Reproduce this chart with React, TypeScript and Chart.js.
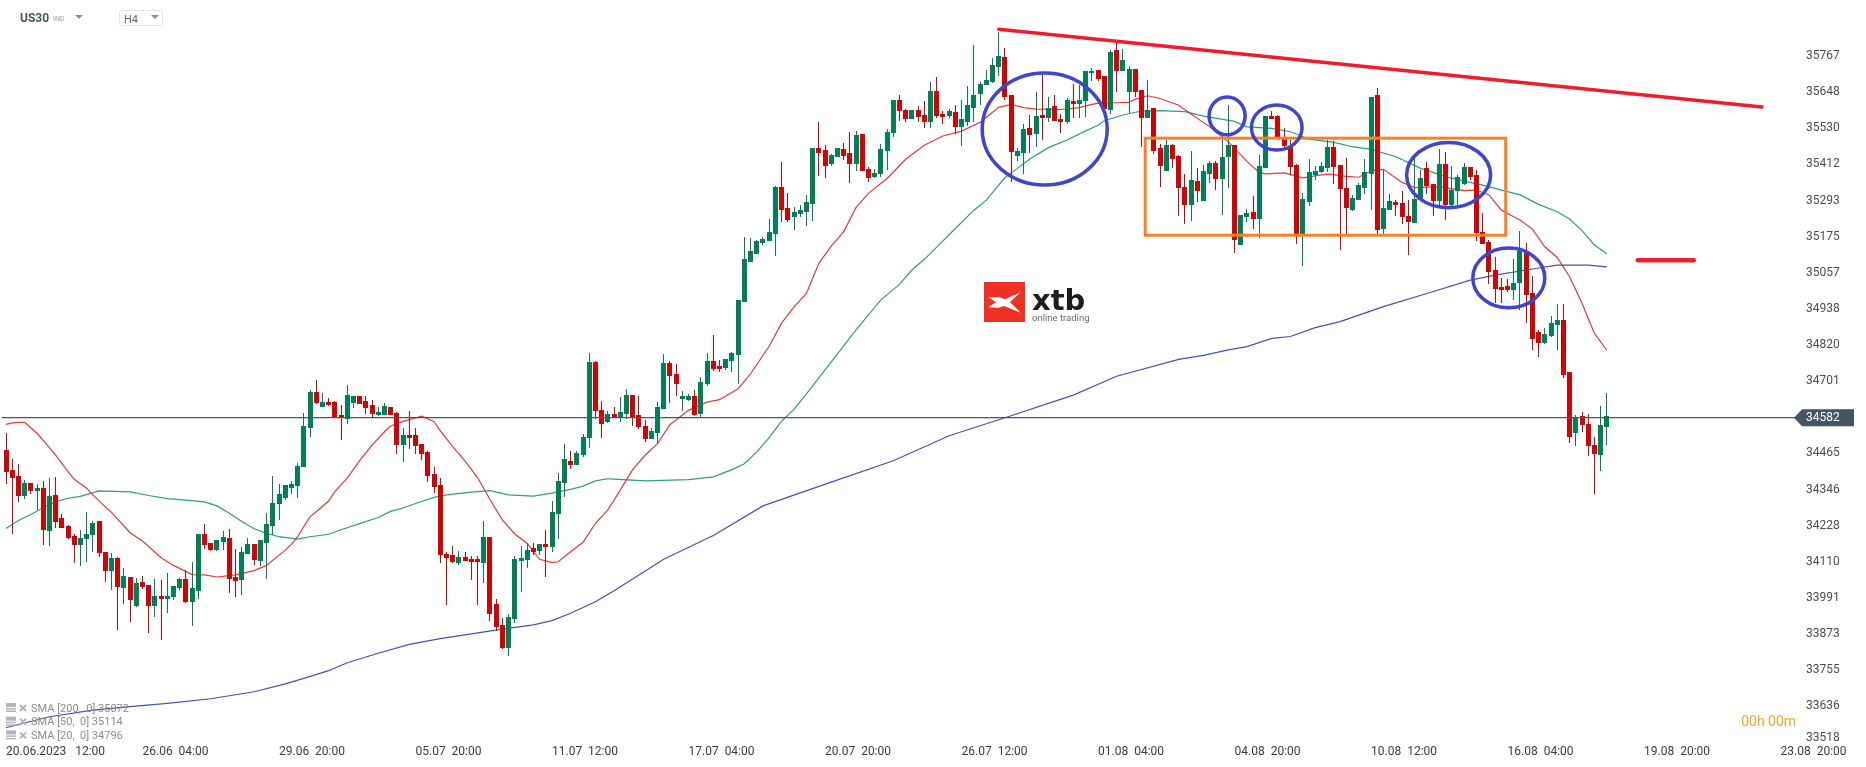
// US30 H4 candles with three SMAs and hand drawn analysis marks
import React, { useEffect, useRef } from 'react';
import Chart from 'chart.js/auto';

const opens = [
  34476,34411,34391,34327,34368,34343,34352,34212,34329,34253,
  34227,34194,34166,34186,34199,34244,34142,34081,34122,34025,
  34060,33965,34044,34034,33966,33998,33989,33996,34025,34053,
  33979,34015,34201,34171,34149,34176,34188,34060,34051,34137,
  34168,34114,34172,34228,34300,34318,34353,34359,34422,34549,
  34666,34618,34633,34633,34591,34579,34631,34653,34637,34624,
  34591,34592,34617,34597,34494,34525,34525,34496,34470,34397,
  34361,34135,34132,34107,34126,34119,34119,34107,34191,33971,
  33903,33828,33923,34114,34117,34155,34146,34168,34159,34268,
  34369,34439,34427,34460,34515,34763,34606,34568,34593,34581,
  34594,34655,34590,34554,34512,34532,34610,34760,34724,34643,
  34640,34652,34594,34691,34767,34750,34745,34768,34787,34961,
  35092,35118,35154,35161,35184,35337,35268,35240,35251,35257,
  35283,35466,35459,35414,35437,35462,35449,35414,35511,35397,
  35372,35381,35457,35515,35623,35590,35562,35590,35574,35552,
  35652,35577,35572,35584,35535,35552,35598,35643,35673,35683,
  35732,35764,35639,35440,35450,35531,35513,35574,35565,35603,
  35561,35552,35620,35611,35621,35710,35721,35702,35590,35787,
  35719,35650,35724,35656,35564,35597,35466,35390,35475,35439,
  35338,35280,35357,35292,35382,35416,35364,35436,35475,35149,
  35240,35256,35233,35400,35570,35570,35502,35472,35410,35184,
  35289,35376,35387,35400,35469,35410,35335,35262,35295,35335,
  35380,35639,35200,35262,35289,35285,35243,35220,35295,35400,
  35348,35292,35413,35279,35325,35348,35403,35377,35190,35158,
  35066,35010,35013,35000,35023,35128,34990,34863,34827,34849,
  34886,34902,34732,34532,34588,34561,34492,34460,34551,
];
const closes = [
  34405,34385,34327,34368,34343,34352,34215,34325,34241,34222,
  34189,34166,34188,34201,34237,34140,34081,34122,34028,34063,
  33983,34040,34028,33966,33998,33989,33998,34031,34053,33979,
  34024,34201,34166,34149,34181,34191,34055,34048,34142,34168,
  34117,34181,34234,34302,34332,34361,34365,34424,34555,34666,
  34631,34633,34625,34584,34584,34656,34653,34628,34615,34595,
  34601,34620,34592,34494,34525,34515,34490,34464,34392,34356,
  34133,34123,34110,34126,34114,34110,34110,34191,33940,33897,
  33828,33929,34119,34122,34148,34142,34168,34159,34273,34375,
  34447,34427,34465,34518,34763,34604,34561,34593,34583,34600,
  34655,34584,34551,34512,34537,34616,34760,34719,34692,34652,
  34652,34590,34698,34767,34742,34742,34773,34793,34967,35101,
  35127,35160,35166,35189,35337,35262,35230,35255,35262,35289,
  35466,35449,35408,35443,35466,35440,35414,35508,35391,35368,
  35384,35462,35518,35623,35588,35562,35590,35568,35552,35652,
  35572,35568,35587,35535,35561,35606,35639,35675,35688,35738,
  35767,35634,35454,35456,35528,35509,35570,35565,35597,35555,
  35552,35623,35611,35623,35718,35718,35693,35594,35780,35719,
  35754,35724,35650,35564,35590,35457,35407,35475,35430,35336,
  35280,35361,35325,35390,35416,35364,35436,35475,35164,35246,
  35253,35233,35407,35570,35561,35498,35472,35403,35184,35299,
  35387,35390,35407,35469,35403,35331,35269,35302,35344,35387,
  35633,35197,35269,35292,35279,35240,35223,35299,35367,35341,
  35292,35413,35279,35328,35371,35403,35371,35187,35151,35059,
  35004,35000,35000,35023,35128,34984,34840,34827,34856,34892,
  34902,34722,34519,34584,34558,34489,34463,34558,34588,
];
const highs = [
  34531,34447,34430,34378,34368,34365,34375,34384,34388,34266,
  34230,34201,34214,34273,34244,34244,34142,34139,34126,34090,
  34060,34057,34063,34034,34053,34050,34073,34031,34057,34083,
  34109,34201,34234,34171,34181,34211,34217,34152,34158,34188,
  34168,34181,34270,34391,34365,34361,34375,34434,34597,34673,
  34705,34663,34646,34637,34624,34689,34653,34653,34653,34640,
  34617,34630,34617,34601,34548,34604,34548,34496,34473,34420,
  34384,34142,34162,34145,34142,34129,34129,34243,34191,33989,
  33926,33939,34129,34162,34168,34171,34168,34215,34309,34401,
  34496,34472,34472,34527,34793,34767,34636,34603,34616,34649,
  34675,34655,34652,34573,34547,34632,34790,34767,34757,34668,
  34659,34672,34714,34793,34852,34770,34776,34796,34967,35173,
  35170,35163,35173,35232,35340,35419,35317,35271,35279,35312,
  35466,35551,35475,35446,35466,35482,35518,35521,35511,35403,
  35397,35479,35528,35623,35639,35593,35590,35603,35620,35682,
  35698,35587,35593,35606,35623,35669,35803,35682,35721,35760,
  35846,35793,35639,35466,35544,35574,35649,35705,35633,35639,
  35577,35629,35675,35672,35718,35728,35721,35702,35787,35816,
  35790,35734,35724,35656,35688,35597,35479,35492,35479,35443,
  35380,35456,35400,35410,35424,35424,35508,35606,35475,35246,
  35266,35308,35443,35570,35587,35574,35531,35492,35413,35317,
  35430,35407,35420,35492,35489,35410,35433,35312,35351,35430,
  35633,35662,35394,35315,35295,35325,35295,35432,35394,35420,
  35348,35462,35452,35407,35377,35416,35403,35394,35253,35164,
  35108,35040,35036,35102,35194,35154,35046,34869,34876,34915,
  34954,34954,34732,34591,34601,34594,34519,34620,34663,
];
const lows = [
  34365,34201,34307,34317,34333,34280,34166,34163,34222,34222,
  34186,34107,34097,34110,34143,34127,34045,34019,33887,33973,
  33914,33963,34022,33878,33930,33855,33943,33986,34019,33976,
  33901,33989,34153,34146,34146,34150,34009,33996,34002,34137,
  34100,34097,34055,34199,34248,34313,34333,34320,34422,34520,
  34628,34618,34621,34584,34510,34563,34615,34628,34595,34585,
  34589,34592,34592,34464,34438,34480,34464,34444,34372,34336,
  34107,33969,34107,34100,34111,34051,33969,34041,33917,33884,
  33825,33802,33910,34012,34091,34133,34132,34061,34142,34186,
  34323,34414,34427,34453,34483,34578,34515,34565,34583,34568,
  34578,34555,34545,34502,34512,34496,34610,34630,34653,34604,
  34637,34588,34584,34686,34735,34732,34738,34732,34692,34961,
  35092,35118,35148,35161,35112,35223,35223,35197,35241,35211,
  35227,35375,35368,35408,35437,35427,35352,35390,35391,35355,
  35368,35372,35395,35503,35555,35552,35562,35552,35532,35532,
  35565,35545,35565,35513,35473,35539,35552,35608,35673,35680,
  35703,35624,35355,35424,35381,35450,35470,35493,35552,35555,
  35516,35545,35565,35565,35568,35686,35686,35594,35577,35650,
  35719,35579,35634,35470,35564,35447,35339,35390,35400,35243,
  35218,35228,35289,35292,35352,35328,35247,35336,35123,35149,
  35223,35200,35171,35400,35561,35498,35462,35377,35151,35080,
  35276,35361,35383,35387,35348,35131,35184,35259,35295,35315,
  35262,35184,35184,35262,35243,35217,35115,35220,35292,35315,
  35243,35272,35230,35276,35279,35344,35361,35161,35151,35020,
  34957,34958,34994,34968,34935,34892,34804,34781,34823,34846,
  34804,34712,34499,34489,34535,34456,34332,34407,34492,
];

// SMA lines at the bars where they bend
const sma20Bars = [0,1,2,3,5,7,8,10,11,13,14,16,17,20,22,25,27,30,32,34,37,40,42,45,46,47,49,50,52,53,55,57,59,61,62,64,67,69,70,72,74,76,78,80,82,84,86,88,89,91,93,95,97,98,101,103,105,107,110,113,115,118,120,123,125,127,129,131,133,135,137,139,142,145,148,151,154,157,160,162,164,166,170,173,175,176,177,179,181,182,184,186,189,191,194,197,200,202,203,206,209,213,216,218,220,222,225,227,231,235,237,239,241,244,246,248,250,252,254,256,258];
const sma20Values = [34560,34565,34567,34567,34531,34484,34459,34405,34380,34351,34329,34290,34272,34205,34178,34123,34098,34068,34067,34060,34067,34081,34098,34148,34167,34192,34258,34274,34309,34340,34384,34441,34492,34536,34555,34570,34587,34569,34539,34487,34440,34386,34314,34247,34201,34170,34118,34107,34110,34143,34174,34236,34280,34312,34412,34459,34497,34559,34606,34633,34641,34677,34726,34816,34892,34945,34989,35088,35144,35191,35271,35317,35366,35429,35475,35505,35521,35550,35599,35609,35598,35593,35592,35598,35609,35612,35613,35614,35615,35626,35637,35628,35606,35577,35535,35486,35422,35385,35381,35384,35368,35381,35373,35370,35391,35396,35353,35336,35339,35326,35328,35312,35262,35230,35200,35142,35107,35044,34957,34858,34803];
const sma50Bars = [0,2,4,6,8,10,12,15,20,23,26,29,32,34,36,38,40,42,44,47,49,52,54,57,60,62,64,66,69,71,75,78,81,85,88,91,93,95,97,98,103,110,114,117,119,121,123,125,127,129,133,137,141,144,146,148,150,153,156,158,161,163,165,168,171,174,176,177,180,183,186,190,193,198,200,204,207,210,214,217,220,224,228,232,235,238,241,244,247,250,252,254,256,258];
const sma50Values = [34219,34245,34265,34287,34306,34318,34324,34342,34339,34327,34317,34312,34306,34293,34269,34242,34218,34203,34192,34184,34192,34200,34215,34235,34255,34275,34286,34301,34321,34329,34338,34343,34329,34325,34335,34347,34358,34375,34382,34381,34375,34379,34388,34412,34431,34470,34517,34571,34609,34660,34765,34870,34968,35019,35066,35101,35141,35202,35262,35295,35369,35399,35430,35467,35492,35522,35540,35555,35574,35587,35588,35585,35570,35553,35535,35530,35519,35495,35484,35470,35461,35437,35399,35372,35357,35344,35328,35312,35281,35257,35233,35195,35148,35119];
const sma200Bars = [0,7,14,20,26,33,40,45,48,52,55,60,65,70,80,85,88,91,95,98,106,114,122,133,143,152,161,172,179,189,193,197,200,204,207,211,215,222,229,236,240,245,250,255,258];
const sma200Values = [33566,33602,33624,33635,33646,33661,33684,33710,33728,33753,33779,33810,33839,33858,33889,33903,33917,33941,33979,34015,34118,34196,34293,34371,34441,34523,34582,34656,34718,34773,34786,34804,34815,34842,34848,34877,34897,34946,34989,35033,35049,35066,35082,35082,35076];

const currentPrice = 34582;
const bottomPrice = 33518;
const yTicks = [33636,33755,33873,33991,34110,34228,34346,34465,34701,34820,34938,35057,35175,35293,35412,35530,35648,35767];
const xTickLabels = ['20.06.2023   12:00','26.06  04:00','29.06  20:00','05.07  20:00','11.07  12:00','17.07  04:00','20.07  20:00','26.07  12:00','01.08  04:00','04.08  20:00','10.08  12:00','16.08  04:00','19.08  20:00','23.08  20:00'];
const barsPerXTick = 22;
const barLabels = Array.from({ length: 289 }, (_, i) => String(i));

const legendRows = ['SMA [200,  0] 35072', 'SMA [50,  0] 35114', 'SMA [20,  0] 34796'];

// analysis marks, in bars and price
const trendBars = [160, 283];
const trendPrices = [35855, 35600];
const targetBars = [263, 272];
const targetPrices = [35098, 35098];
const ellipseBars = [167.4, 196.8, 204.8, 232.5, 242.2];
const ellipsePrices = [35528, 35571, 35533, 35377, 35040];
const ellipseBarRadii = [10.07, 2.9, 4.08, 6.77, 5.8];
const ellipsePriceRadii = [183.5, 62, 74, 107, 98];
const rangeBars = [183.6, 241.7];
const rangePrices = [35498, 35180];

const GREEN = '#027f56';
const RED = '#d00404';
const candleColors = closes.map((c, i) => (c >= opens[i] ? GREEN : RED));

const points = (bars: number[], values: number[]) =>
  bars.map((b, i) => ({ x: barLabels[b], y: values[i] }));

const smaLine = (bars: number[], values: number[], color: string) => ({
  type: 'line' as const,
  data: points(bars, values),
  borderColor: color,
  borderWidth: 1.2,
  pointRadius: 0,
  tension: 0,
  order: 5,
});

const markLine = (bars: number[], values: number[], width: number) => ({
  type: 'line' as const,
  data: points(bars, values),
  borderColor: '#ef1c2a',
  borderWidth: width,
  borderCapStyle: 'round' as const,
  pointRadius: 0,
  tension: 0,
  order: 0,
});

// the platform draws its candles on whole pixels
const snapBars = {
  id: 'snapBars',
  beforeDatasetsDraw(chart: any) {
    chart.getSortedVisibleDatasetMetas().forEach((meta: any) => {
      if (meta.type !== 'bar') return;
      meta.data.forEach((el: any) => {
        el.x = Math.floor(el.x) + 0.5;
        el.y = Math.round(el.y);
        el.base = Math.round(el.base);
      });
    });
  },
};

const drawHeader = (ctx: CanvasRenderingContext2D) => {
  ctx.textBaseline = 'middle';
  ctx.textAlign = 'left';
  ctx.fillStyle = '#47535b';
  ctx.font = 'bold 12px Roboto';
  ctx.fillText('US30', 20, 19);
  ctx.fillStyle = '#9a9fa3';
  ctx.font = '7px Roboto';
  ctx.fillText('IND', 53, 19);
  ctx.fillStyle = '#8f8f8f';
  ctx.beginPath();
  ctx.moveTo(75, 15);
  ctx.lineTo(83, 15);
  ctx.lineTo(79, 19);
  ctx.fill();

  ctx.strokeStyle = '#e3e5e7';
  ctx.lineWidth = 1;
  ctx.beginPath();
  ctx.roundRect(119.5, 10.5, 43, 15, 2);
  ctx.stroke();
  ctx.fillStyle = '#5a6a72';
  ctx.font = '11px Roboto';
  ctx.fillText('H4', 124, 20);
  ctx.fillStyle = '#8f8f8f';
  ctx.beginPath();
  ctx.moveTo(151, 15);
  ctx.lineTo(159, 15);
  ctx.lineTo(155, 19);
  ctx.fill();
};

const drawLogo = (ctx: CanvasRenderingContext2D) => {
  ctx.fillStyle = '#ee3124';
  ctx.fillRect(984, 282, 41, 40);
  ctx.fillStyle = '#ffffff';
  ctx.beginPath();
  const wing = [[85,112],[118,112],[135,118],[182,97],[150,126],[182,158],[132,138],[115,143],[85,142],[108,127]];
  wing.forEach(([zx, zy], i) => {
    const px = 960 + zx / 3;
    const py = 260 + zy / 3;
    if (i === 0) ctx.moveTo(px, py);
    else ctx.lineTo(px, py);
  });
  ctx.closePath();
  ctx.fill();

  ctx.textBaseline = 'alphabetic';
  ctx.textAlign = 'left';
  ctx.fillStyle = '#1d1d1b';
  ctx.font = 'bold 29px "DejaVu Sans"';
  ctx.fillText('xtb', 1032, 310);
  ctx.fillStyle = '#6a6a6a';
  ctx.font = '9.5px Roboto';
  ctx.fillText('online trading', 1032, 321);
};

const drawLegend = (ctx: CanvasRenderingContext2D) => {
  ctx.textBaseline = 'middle';
  ctx.textAlign = 'left';
  ctx.font = '11px Roboto';
  legendRows.forEach((row, i) => {
    const y = 708 + i * 13.7;
    ctx.fillStyle = '#b4b4b4';
    ctx.fillRect(6, y - 5, 10, 4);
    ctx.fillRect(6, y, 10, 1.5);
    ctx.fillRect(6, y + 2.5, 10, 1.5);
    ctx.strokeStyle = '#b4b4b4';
    ctx.lineWidth = 2;
    ctx.beginPath();
    ctx.moveTo(20, y - 3);
    ctx.lineTo(26, y + 3);
    ctx.moveTo(26, y - 3);
    ctx.lineTo(20, y + 3);
    ctx.stroke();
    ctx.fillStyle = '#8c8c8c';
    ctx.fillText(row, 31, y + 1);
  });
};

const overlay = {
  id: 'overlay',
  afterDatasetsDraw(chart: any) {
    const { ctx, chartArea, scales } = chart;
    const { x, y } = scales;
    ctx.save();

    // current price line and its tag
    const py = y.getPixelForValue(currentPrice);
    ctx.strokeStyle = '#4a5660';
    ctx.lineWidth = 1.3;
    ctx.beginPath();
    ctx.moveTo(2, py);
    ctx.lineTo(1795, py);
    ctx.stroke();
    ctx.fillStyle = '#455560';
    ctx.beginPath();
    ctx.moveTo(1794, py);
    ctx.lineTo(1802, py - 8.5);
    ctx.lineTo(1854, py - 8.5);
    ctx.lineTo(1854, py + 8.5);
    ctx.lineTo(1802, py + 8.5);
    ctx.closePath();
    ctx.fill();
    ctx.fillStyle = '#ffffff';
    ctx.font = '12px Roboto';
    ctx.textAlign = 'left';
    ctx.textBaseline = 'middle';
    ctx.fillText(String(currentPrice), 1806, py + 0.5);

    // the platform lifts its lowest price label clear of the time axis
    ctx.fillStyle = '#4d4d4d';
    ctx.fillText(String(bottomPrice), 1806, y.getPixelForValue(bottomPrice) - 4);

    // range box
    const rx0 = x.getPixelForValue(rangeBars[0]);
    const rx1 = x.getPixelForValue(rangeBars[1]);
    const ry0 = y.getPixelForValue(rangePrices[0]);
    const ry1 = y.getPixelForValue(rangePrices[1]);
    ctx.strokeStyle = '#fb8024';
    ctx.lineWidth = 3;
    ctx.strokeRect(rx0, ry0, rx1 - rx0, ry1 - ry0);

    // circled areas
    ctx.strokeStyle = '#3f45cc';
    ctx.lineWidth = 3.5;
    ellipseBars.forEach((bar, i) => {
      const cx = x.getPixelForValue(bar);
      const cy = y.getPixelForValue(ellipsePrices[i]);
      const rw = x.getPixelForValue(bar + ellipseBarRadii[i]) - cx;
      const rh = cy - y.getPixelForValue(ellipsePrices[i] + ellipsePriceRadii[i]);
      ctx.beginPath();
      ctx.ellipse(cx, cy, rw, rh, 0, 0, Math.PI * 2);
      ctx.stroke();
    });

    drawHeader(ctx);
    drawLogo(ctx);
    drawLegend(ctx);

    ctx.fillStyle = '#f5a623';
    ctx.font = '14px Roboto';
    ctx.textAlign = 'right';
    ctx.textBaseline = 'middle';
    ctx.fillText('00h 00m', chartArea.right, 722);
    ctx.restore();
  },
};

const App = () => {
  const canvasRef = useRef<HTMLCanvasElement>(null);

  useEffect(() => {
    if (!canvasRef.current) return;
    const chart = new Chart(canvasRef.current, {
      type: 'bar',
      data: {
        labels: barLabels,
        datasets: [
          {
            data: opens.map((o, i) => [o, closes[i]]),
            backgroundColor: candleColors,
            barThickness: 5,
            grouped: false,
            inflateAmount: 0,
            order: 1,
          },
          {
            data: lows.map((l, i) => [l, highs[i]]),
            backgroundColor: candleColors,
            barThickness: 1,
            grouped: false,
            inflateAmount: 0,
            order: 2,
          },
          smaLine(sma20Bars, sma20Values, '#e5383d'),
          smaLine(sma50Bars, sma50Values, '#2f9c7a'),
          smaLine(sma200Bars, sma200Values, '#4452b0'),
          markLine(trendBars, trendPrices, 3.5),
          markLine(targetBars, targetPrices, 4.5),
        ] as any,
      },
      options: {
        responsive: false,
        animation: false,
        layout: { padding: { left: 2.9, top: 10, right: 0, bottom: 0 } },
        plugins: { legend: { display: false }, tooltip: { enabled: false } },
        scales: {
          x: {
            offset: true,
            grid: { display: false, drawTicks: false },
            border: { display: false },
            afterBuildTicks: (scale: any) => {
              scale.ticks = xTickLabels.map((_, k) => ({ value: k * barsPerXTick }));
            },
            afterFit: (scale: any) => {
              scale.height = 24.6;
            },
            ticks: {
              autoSkip: false,
              maxRotation: 0,
              align: 'start',
              padding: 2,
              color: '#3c3c3c',
              font: { family: 'Roboto', size: 12 },
              callback: (value: any) => xTickLabels[value / barsPerXTick],
            },
          },
          y: {
            position: 'right',
            min: bottomPrice,
            max: 35918,
            grid: { display: false, drawTicks: false },
            border: { display: false },
            afterBuildTicks: (scale: any) => {
              scale.ticks = yTicks.map((value) => ({ value }));
            },
            afterFit: (scale: any) => {
              // tick padding would otherwise push the plot area down
              scale.width = 69.9;
              scale.paddingTop = 0;
              scale.paddingBottom = 0;
            },
            ticks: {
              padding: 10,
              color: '#4d4d4d',
              font: { family: 'Roboto', size: 12 },
              callback: (value: any) => String(value),
            },
          },
        },
      },
      plugins: [snapBars, overlay],
    });
    return () => chart.destroy();
  }, []);

  return (
    <div style={{ position: 'fixed', left: 0, top: 0, width: 1866, height: 767, background: '#fff' }}>
      <canvas ref={canvasRef} width={1866} height={767} style={{ display: 'block' }} />
    </div>
  );
};

export default App;
